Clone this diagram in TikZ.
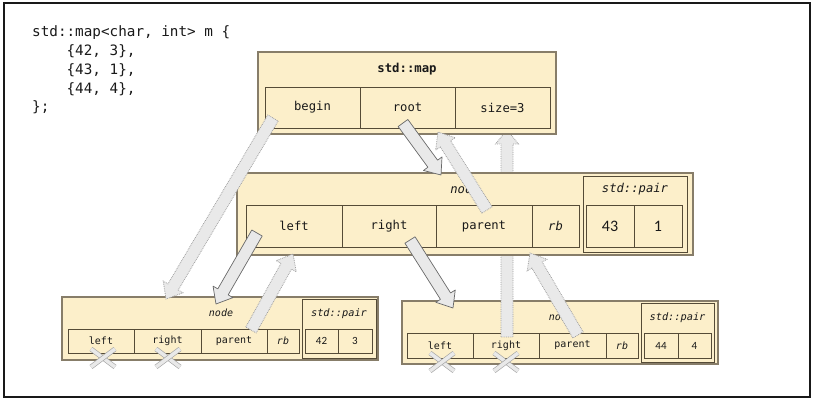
\documentclass[tikz,border=0pt]{standalone}
\usepackage{fontspec}
\setmonofont{DejaVu Sans Mono}
\newfontfamily\numfont{Carlito}
\usetikzlibrary{calc}
\definecolor{cream}{RGB}{252,239,202}
\definecolor{cellline}{RGB}{85,75,55}
\definecolor{boxline}{RGB}{135,125,105}
\definecolor{arrfill}{RGB}{233,233,233}
\definecolor{arrsolid}{RGB}{105,105,105}
\definecolor{arrdot}{RGB}{160,160,160}
\definecolor{ink}{RGB}{25,25,25}
\newcommand{\blockarrow}[3]{%
  \coordinate (#2#3h) at ($(#3)!14pt!(#2)$);
  \filldraw[#1] ($(#2)!6pt!90:(#3)$) -- ($(#2#3h)!6pt!90:(#3)$) -- ($(#2#3h)!11.5pt!90:(#3)$) -- (#3) -- ($(#2#3h)!11.5pt!-90:(#3)$) -- ($(#2#3h)!6pt!-90:(#3)$) -- ($(#2)!6pt!-90:(#3)$) -- cycle;}
\newcommand{\nullcross}[2]{%
  \draw[nullx] (#1-12,#2-9) -- (#1+12,#2+9);
  \draw[nullx] (#1-12,#2+9) -- (#1+12,#2-9);}
\begin{document}
\begin{tikzpicture}[x=1pt,y=-1pt,
  box/.style={draw=boxline, line width=1.3pt, fill=cream, inner sep=0pt, outer sep=0pt},
  cell/.style={draw=cellline, line width=0.8pt, fill=cream, inner sep=0pt, outer sep=0pt, text=ink},
  big/.style={font=\ttfamily\fontsize{12.2}{14}\selectfont},
  small/.style={font=\ttfamily\fontsize{10}{12}\selectfont},
  label/.style={inner sep=0pt, text=ink},
  codeline/.style={anchor=base west, inner sep=0pt, text=ink, font=\ttfamily\fontsize{14.3}{18}\selectfont},
  solidarrow/.style={fill=arrfill, draw=arrsolid, line width=0.7pt, line join=round},
  dotarrow/.style={fill=arrfill, draw=arrdot, line width=0.8pt, densely dotted},
  nullx/.style={draw=gray!75, line width=0.6pt, double=arrfill, double distance=3.6pt}]
\useasboundingbox (0,0) rectangle (815,403);
\draw[line width=2pt, draw=ink] (3.5,3.5) rectangle (810,397.5);

% code
\node[codeline] (code1) at (32,37) {std::map<char, int> m \{};
\node[codeline] (code2) at (32,55.75) {\hphantom{0000}\{42, 3\},};
\node[codeline] (code3) at (32,74.5) {\hphantom{0000}\{43, 1\},};
\node[codeline] (code4) at (32,93.25) {\hphantom{0000}\{44, 4\},};
\node[codeline] (code5) at (32,112) {\};};

% bottom-left node
\node[box, minimum width=316pt, minimum height=63pt] (bl) at (220,328.5) {};
\node[label, small, font=\ttfamily\itshape\fontsize{10}{12}\selectfont] (bltitle) at (221,313) {node};
\node[cell, small, minimum width=66pt, minimum height=24pt] (blleft) at (101,341) {left};
\node[cell, small, minimum width=67pt, minimum height=24pt] (blright) at (167.5,341) {right};
\node[cell, small, minimum width=66pt, minimum height=24pt] (blparent) at (234,341) {parent};
\node[cell, small, font=\ttfamily\itshape\fontsize{10}{12}\selectfont, minimum width=32pt, minimum height=24pt] (blrb) at (283,341) {rb};
\node[cell, minimum width=74pt, minimum height=59pt] (blpair) at (339,328.5) {};
\node[label, font=\ttfamily\itshape\fontsize{10.3}{12}\selectfont] (blpairt) at (339,314) {std::pair};
\node[cell, font=\numfont\fontsize{11}{13}\selectfont, minimum width=33pt, minimum height=24pt] (blk) at (321.5,341) {42};
\node[cell, font=\numfont\fontsize{11}{13}\selectfont, minimum width=34pt, minimum height=24pt] (blv) at (355,341) {3};

% bottom-right node
\node[box, minimum width=316pt, minimum height=63pt] (br) at (560,332.5) {};
\node[label, font=\ttfamily\itshape\fontsize{10}{12}\selectfont] (brtitle) at (561,317) {node};
\node[cell, small, minimum width=66pt, minimum height=25pt] (brleft) at (440,345.5) {left};
\node[cell, small, minimum width=66pt, minimum height=25pt] (brright) at (506,345.5) {right};
\node[cell, small, minimum width=67pt, minimum height=25pt] (brparent) at (572.5,345.5) {parent};
\node[cell, font=\ttfamily\itshape\fontsize{10}{12}\selectfont, minimum width=32pt, minimum height=25pt] (brrb) at (622,345.5) {rb};
\node[cell, minimum width=73pt, minimum height=59pt] (brpair) at (677.5,332.5) {};
\node[label, font=\ttfamily\itshape\fontsize{10.3}{12}\selectfont] (brpairt) at (677.5,318) {std::pair};
\node[cell, font=\numfont\fontsize{11}{13}\selectfont, minimum width=34pt, minimum height=25pt] (brk) at (661,345.5) {44};
\node[cell, font=\numfont\fontsize{11}{13}\selectfont, minimum width=33pt, minimum height=25pt] (brv) at (694.5,345.5) {4};

% arrow hidden behind middle node
\coordinate (vt) at (507,337);
\coordinate (vh) at (507,130);
\blockarrow{dotarrow}{vt}{vh}

% middle node
\node[box, minimum width=456pt, minimum height=82pt] (mid) at (465,214) {};
\node[label, font=\ttfamily\itshape\fontsize{12.2}{14}\selectfont] (midtitle) at (465,189) {node};
\node[cell, big, minimum width=96pt, minimum height=42pt] (mleft) at (294,226) {left};
\node[cell, big, minimum width=94pt, minimum height=42pt] (mright) at (389,226) {right};
\node[cell, big, minimum width=96pt, minimum height=42pt] (mparent) at (484,226) {parent};
\node[cell, font=\ttfamily\itshape\fontsize{12.2}{14}\selectfont, minimum width=47pt, minimum height=42pt] (mrb) at (555.5,226) {rb};
\node[cell, minimum width=104pt, minimum height=76pt] (mpair) at (635,214) {};
\node[label, font=\ttfamily\itshape\fontsize{12.2}{14}\selectfont] (mpairt) at (635,189) {std::pair};
\node[cell, font=\numfont\fontsize{16}{18}\selectfont, minimum width=48pt, minimum height=42pt] (mk) at (610,226) {43};
\node[cell, font=\numfont\fontsize{16}{18}\selectfont, minimum width=48pt, minimum height=42pt] (mv) at (658,226) {1};

% std::map
\node[box, minimum width=298pt, minimum height=82pt] (map) at (407,93) {};
\node[label, font=\ttfamily\bfseries\fontsize{12.3}{14}\selectfont] (maptitle) at (407,69) {std::map};
\node[cell, big, minimum width=95pt, minimum height=41pt] (mbegin) at (312.5,107.5) {begin};
\node[cell, big, minimum width=95pt, minimum height=41pt] (mroot) at (407.5,107.5) {root};
\node[cell, big, minimum width=95pt, minimum height=41pt] (msize) at (502.5,107.5) {size=3};

% arrows
\coordinate (bgt) at (273,118);  \coordinate (bgh) at (166,299);
\coordinate (rtt) at (403,123);  \coordinate (rth) at (441,175);
\coordinate (mpt) at (487,210);  \coordinate (mph) at (438,132);
\coordinate (mlt) at (257,233);  \coordinate (mlh) at (216,304);
\coordinate (mrt) at (410,240);  \coordinate (mrh) at (453,308);
\coordinate (bpt) at (251,330);  \coordinate (bph) at (293,254);
\coordinate (rpt) at (578,335);  \coordinate (rph) at (530,253);
\blockarrow{dotarrow}{bgt}{bgh}
\blockarrow{solidarrow}{rtt}{rth}
\blockarrow{dotarrow}{mpt}{mph}
\blockarrow{solidarrow}{mlt}{mlh}
\blockarrow{solidarrow}{mrt}{mrh}
\blockarrow{dotarrow}{bpt}{bph}
\blockarrow{dotarrow}{rpt}{rph}

% null pointers
\nullcross{103}{358}
\nullcross{168}{358}
\nullcross{442}{362}
\nullcross{506}{362}
\end{tikzpicture}
\end{document}
